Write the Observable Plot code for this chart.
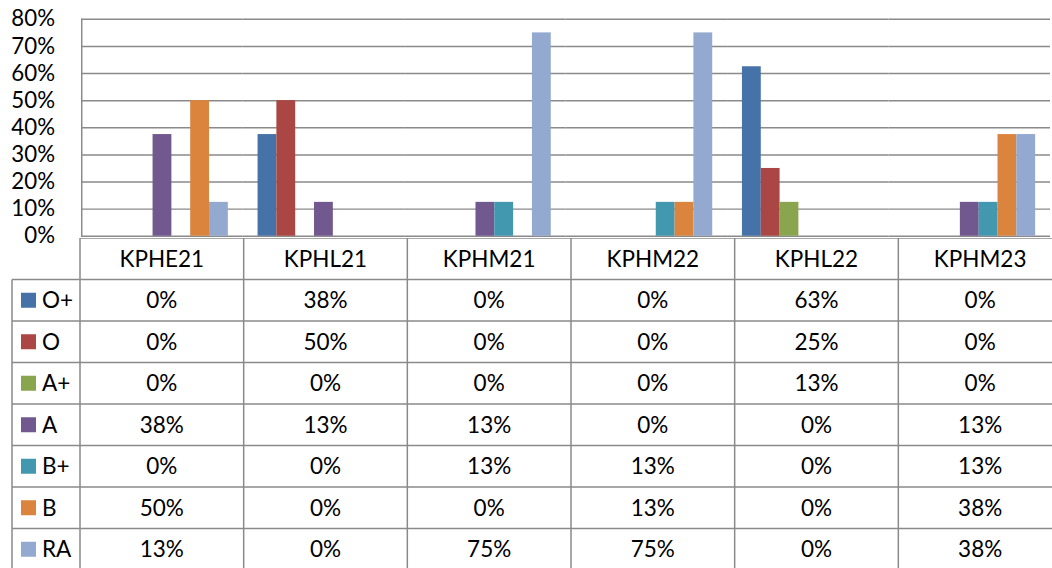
<!DOCTYPE html>
<html><head><meta charset="utf-8">
<script src="https://cdn.jsdelivr.net/npm/d3@7"></script>
<script src="https://cdn.jsdelivr.net/npm/@observablehq/plot@0.6"></script>
<style>
html,body{margin:0;padding:0;background:#fff;overflow:hidden;width:1052px;height:568px}
#wrap{position:relative;width:1052px;height:568px;overflow:hidden}
#chart{position:absolute;left:0;top:0}
#table{position:absolute;left:0;top:238px}
#chart svg,#table svg{display:block}
</style></head><body>
<div id="wrap"><div id="chart"></div><div id="table"></div></div>
<script>
// ---- data ----
const categories = ["KPHE21","KPHL21","KPHM21","KPHM22","KPHL22","KPHM23"];
const seriesNames = ["O+","O","A+","A","B+","B","RA"];
const seriesColors = ["#4572A7","#AA4643","#89A54E","#71588F","#4198AF","#DB843D","#93A9CF"];
const valuesOPlus = [0, 37.5, 0, 0, 62.5, 0];
const valuesO     = [0, 50, 0, 0, 25, 0];
const valuesAPlus = [0, 0, 0, 0, 12.5, 0];
const valuesA     = [37.5, 12.5, 12.5, 0, 0, 12.5];
const valuesBPlus = [0, 0, 12.5, 12.5, 0, 12.5];
const valuesB     = [50, 0, 0, 12.5, 0, 37.5];
const valuesRA    = [12.5, 0, 75, 75, 0, 37.5];
const yTicks = [0, 10, 20, 30, 40, 50, 60, 70, 80];

const seriesValues = [valuesOPlus, valuesO, valuesAPlus, valuesA, valuesBPlus, valuesB, valuesRA];
const rows = [];
seriesNames.forEach((s, i) => categories.forEach((c, j) => rows.push({series: s, category: c, value: seriesValues[i][j]})));

const FONT = "Lato, 'Open Sans', sans-serif";
const FS = "22.5px";
const GRID = "#8a8a8a";
const pct = d => Math.round(d) + "%";

const chart = Plot.plot({
  width: 1062, height: 240,
  marginLeft: 80, marginRight: 0, marginTop: 19, marginBottom: 2,
  style: {fontFamily: FONT, fontSize: FS, color: "#000", background: "transparent", overflow: "visible"},
  fx: {domain: categories, padding: 0, axis: null},
  x: {domain: seriesNames, paddingInner: 0, paddingOuter: 0.72, axis: null},
  y: {domain: [0, 80], ticks: yTicks, tickFormat: d => d + "%", tickSize: 0, tickPadding: 27, label: null},
  color: {domain: seriesNames, range: seriesColors},
  marks: [
    Plot.gridY(yTicks, {stroke: GRID, strokeOpacity: 1, strokeWidth: 1.5}),
    Plot.barY(rows.filter(d => d.value > 0), {fx: "category", x: "series", y: "value", fill: "series"}),
    Plot.frame({anchor: "left", stroke: GRID, strokeWidth: 1.5, facet: "super"})
  ]
});
document.getElementById("chart").appendChild(chart);

// ---- data table below the chart ----
const W = 1062, H = 332;
const colX = d3.scaleBand().domain(categories).range([80, 1062]);
const rowY = d3.scaleBand().domain(["", ...seriesNames]).range([0, H]);
const color = d3.scaleOrdinal().domain(seriesNames).range(seriesColors);
const svg = d3.create("svg").attr("width", W).attr("height", H)
  .style("font-family", FONT).style("font-size", FS);
const g = svg.append("g").attr("stroke", GRID).attr("stroke-width", 1.5);
// horizontal lines
g.append("line").attr("x1", 80).attr("x2", W).attr("y1", rowY("")).attr("y2", rowY(""));
seriesNames.forEach(s => {
  g.append("line").attr("x1", 12).attr("x2", W).attr("y1", rowY(s)).attr("y2", rowY(s));
});
// vertical lines
categories.forEach(c => {
  g.append("line").attr("x1", colX(c)).attr("x2", colX(c)).attr("y1", 0).attr("y2", H);
});
g.append("line").attr("x1", W).attr("x2", W).attr("y1", 0).attr("y2", H);
g.append("line").attr("x1", 12).attr("x2", 12).attr("y1", rowY(seriesNames[0])).attr("y2", H);
// header text
svg.append("g").selectAll("text").data(categories).join("text")
  .attr("x", c => colX(c) + colX.bandwidth() / 2)
  .attr("y", rowY("") + rowY.bandwidth() / 2)
  .attr("dy", "0.36em").attr("text-anchor", "middle").attr("fill", "#000").text(c => c);
// values
svg.append("g").selectAll("text").data(rows).join("text")
  .attr("x", d => colX(d.category) + colX.bandwidth() / 2)
  .attr("y", d => rowY(d.series) + rowY.bandwidth() / 2)
  .attr("dy", "0.36em").attr("text-anchor", "middle").attr("fill", "#000").text(d => pct(d.value));
// legend keys
svg.append("g").selectAll("rect").data(seriesNames).join("rect")
  .attr("x", 21).attr("y", s => rowY(s) + rowY.bandwidth() / 2 - 7.5)
  .attr("width", 15).attr("height", 15).attr("fill", s => color(s));
svg.append("g").selectAll("text").data(seriesNames).join("text")
  .attr("x", 42).attr("y", s => rowY(s) + rowY.bandwidth() / 2)
  .attr("dy", "0.36em").attr("fill", "#000").text(s => s);
document.getElementById("table").appendChild(svg.node());
</script>
</body></html>
